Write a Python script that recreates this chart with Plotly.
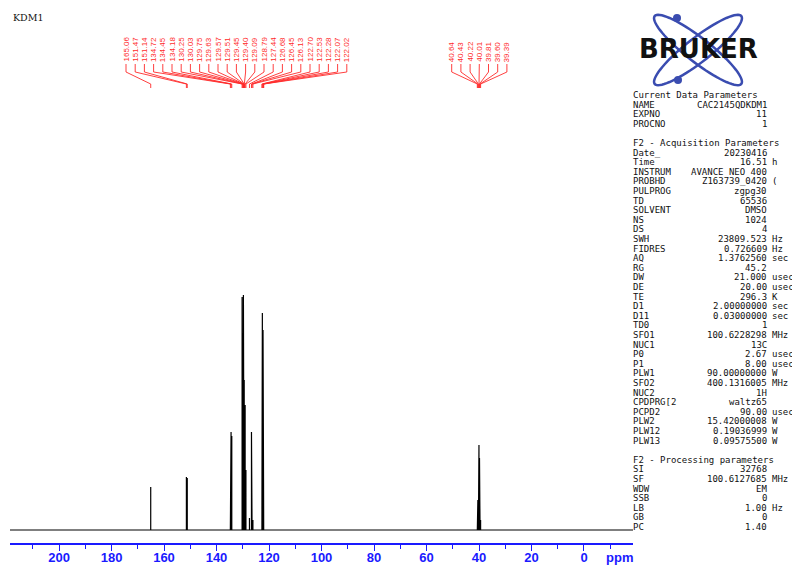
import math
import plotly.graph_objects as go

# ---------------- data ----------------
title_text = "KDM1"

peak_ppm = [165.06, 151.47, 151.14, 134.72, 134.45, 134.18, 130.25, 130.03,
            129.75, 129.63, 129.57, 129.51, 129.45, 129.40, 129.09, 128.79,
            127.44, 126.68, 126.45, 126.13, 122.70, 122.53, 122.28, 122.07,
            122.02]
peak_int = [43, 53, 52, 95, 98, 94, 233, 200,
            235, 210, 180, 160, 150, 140, 125, 60,
            12, 98, 12, 10, 8, 217, 200, 8,
            8]

solvent_ppm = [40.64, 40.43, 40.22, 40.01, 39.81, 39.60, 39.39]
solvent_int = [8, 30, 70, 85, 72, 35, 10]

major_ticks = [200, 180, 160, 140, 120, 100, 80, 60, 40, 20, 0]
minor_ticks = [210, 190, 170, 150, 130, 110, 90, 70, 50, 30, 10, -10]
axis_unit = "ppm"

param_keys = ["Current Data Parameters", "NAME", "EXPNO", "PROCNO", "",
              "F2 - Acquisition Parameters", "Date_", "Time", "INSTRUM",
              "PROBHD", "PULPROG", "TD", "SOLVENT", "NS", "DS", "SWH",
              "FIDRES", "AQ", "RG", "DW", "DE", "TE", "D1", "D11", "TD0",
              "SFO1", "NUC1", "P0", "P1", "PLW1", "SFO2", "NUC2", "CPDPRG[2",
              "PCPD2", "PLW2", "PLW12", "PLW13", "",
              "F2 - Processing parameters", "SI", "SF", "WDW", "SSB", "LB",
              "GB", "PC"]
param_values = ["", "CAC2145QDKDM1", "11", "1", "",
                "", "20230416", "16.51", "AVANCE NEO 400",
                "Z163739_0420", "zgpg30", "65536", "DMSO", "1024", "4", "23809.523",
                "0.726609", "1.3762560", "45.2", "21.000", "20.00", "296.3", "2.00000000", "0.03000000", "1",
                "100.6228298", "13C", "2.67", "8.00", "90.00000000", "400.1316005", "1H", "waltz65",
                "90.00", "15.42000008", "0.19036999", "0.09575500", "",
                "", "32768", "100.6127685", "EM", "0", "1.00",
                "0", "1.40"]
param_units = ["", "", "", "", "",
               "", "", "h", "",
               "(", "", "", "", "", "", "Hz",
               "Hz", "sec", "", "usec", "usec", "K", "sec", "sec", "",
               "MHz", "", "usec", "usec", "W", "MHz", "", "",
               "usec", "W", "W", "W", "",
               "", "", "MHz", "", "", "Hz",
               "", ""]

logo_text = "BRUKER"

# ---------------- layout geometry ----------------
OFF = 8                      # page body margin
W, H = 800 - OFF, 567 - OFF
PLOT_L, PLOT_R, PLOT_T, PLOT_B = 10, 633, 20, 543   # target page pixels
ML, MR = PLOT_L - OFF, W - (PLOT_R - OFF)
MT, MB = PLOT_T - OFF, H - (PLOT_B - OFF)
PW, PH = W - ML - MR, H - MT - MB
X_LEFT, X_RIGHT = 218.67, -18.67
Y_BOT, Y_TOP = -13, 510          # 1 intensity unit == 1 px

BLUE = "#1a1aff"
RED = "#ff2a2a"


def px_to_ppm(px):
    return X_LEFT - (px - PLOT_L) / PW * (X_LEFT - X_RIGHT)


def py_to_y(py):
    return Y_TOP - (py - PLOT_T) / PH * (Y_TOP - Y_BOT)


def paper_x(px):
    return (px - PLOT_L) / PW


def paper_y(py):
    return (PLOT_B - py) / PH


fig = go.Figure()

# ---------------- spectrum ----------------
all_peaks = sorted(zip(peak_ppm + solvent_ppm, peak_int + solvent_int),
                   key=lambda t: -t[0])
sx, sy = [X_LEFT], [0]
for p, h in all_peaks:
    sx += [p, p, p]
    sy += [0, h, 0]
sx.append(X_RIGHT)
sy.append(0)
fig.add_trace(go.Scatter(x=sx, y=sy, mode="lines",
                         line=dict(color="black", width=1.2),
                         hoverinfo="skip", showlegend=False))

# ---------------- peak labels + leader lines ----------------
LABEL_STEP = 9.2
groups = [(peak_ppm, 126.0), (solvent_ppm, 451.7)]
lx_all, ly_all = [], []
annotations = []
for ppms, start_px in groups:
    for i, p in enumerate(ppms):
        lab_px = start_px + i * LABEL_STEP
        lab_ppm = px_to_ppm(lab_px)
        lx_all += [lab_ppm, lab_ppm, p, p, None]
        ly_all += [py_to_y(64), py_to_y(72), py_to_y(84), py_to_y(88), None]
        annotations.append(dict(
            x=lab_ppm, y=py_to_y(63), xref="x", yref="y",
            text=f"{p:.2f}", showarrow=False, textangle=-90,
            xanchor="center", yanchor="bottom", borderpad=0,
            font=dict(family="Liberation Sans", size=8, color=RED)))
fig.add_trace(go.Scatter(x=lx_all, y=ly_all, mode="lines",
                         line=dict(color=RED, width=0.9),
                         hoverinfo="skip", showlegend=False))

# ---------------- title ----------------
annotations.append(dict(x=paper_x(11), y=paper_y(17), xref="paper", yref="paper",
                        text=title_text, showarrow=False, xanchor="left",
                        yanchor="middle",
                        font=dict(family="DejaVu Serif", size=9.5, color="#111")))

# ---------------- ppm label ----------------
annotations.append(dict(x=paper_x(619), y=paper_y(557), xref="paper", yref="paper",
                        text=axis_unit, showarrow=False, xanchor="center",
                        yanchor="middle",
                        font=dict(family="Liberation Sans", size=13, color=BLUE,
                                  weight="bold")))

# ---------------- parameter panel ----------------
PFONT = dict(family="DejaVu Sans Mono", size=9, color="#111")
for i, (k, v, u) in enumerate(zip(param_keys, param_values, param_units)):
    py = 95 + 9.6 * i
    if k:
        annotations.append(dict(x=paper_x(632), y=paper_y(py), xref="paper",
                                yref="paper", text=k, showarrow=False,
                                xanchor="left", yanchor="middle", font=PFONT,
                                borderpad=0))
    if v:
        annotations.append(dict(x=paper_x(768), y=paper_y(py), xref="paper",
                                yref="paper", text=v, showarrow=False,
                                xanchor="right", yanchor="middle", font=PFONT,
                                borderpad=0))
    if u:
        annotations.append(dict(x=paper_x(771), y=paper_y(py), xref="paper",
                                yref="paper", text=u, showarrow=False,
                                xanchor="left", yanchor="middle", font=PFONT,
                                borderpad=0))

# ---------------- logo ----------------
LOGO_BLUE = "#3a4cb0"
shapes = []
cx, cy, a, b = 698, 50, 55, 12
for ang in (38, -38):
    t = math.radians(ang)
    pts = []
    for k in range(73):
        s = 2 * math.pi * k / 72
        ex, ey = a * math.cos(s), b * math.sin(s)
        px = cx + ex * math.cos(t) - ey * math.sin(t)
        py = cy + ex * math.sin(t) + ey * math.cos(t)
        pts.append(f"{paper_x(px):.5f},{paper_y(py):.5f}")
    shapes.append(dict(type="path", xref="paper", yref="paper",
                       path="M " + " L ".join(pts) + " Z",
                       line=dict(color=LOGO_BLUE, width=2.5)))
for dx, dy in ((677, 18), (678, 80)):
    shapes.append(dict(type="circle", xref="paper", yref="paper",
                       x0=paper_x(dx - 4), x1=paper_x(dx + 4),
                       y0=paper_y(dy + 4), y1=paper_y(dy - 4),
                       fillcolor=LOGO_BLUE, line=dict(width=0)))
annotations.append(dict(x=paper_x(698), y=paper_y(49), xref="paper", yref="paper",
                        text=logo_text, showarrow=False, xanchor="center",
                        yanchor="middle",
                        font=dict(family="DejaVu Sans", size=26, color="#111",
                                  weight="bold")))

fig.update_layout(
    width=W, height=H, autosize=False,
    margin=dict(l=ML, r=MR, t=MT, b=MB, autoexpand=False),
    paper_bgcolor="white", plot_bgcolor="white",
    showlegend=False,
    annotations=annotations,
    shapes=shapes,
    xaxis=dict(range=[X_LEFT, X_RIGHT], showgrid=False, zeroline=False,
               automargin=False,
               showline=True, linecolor=BLUE, linewidth=1.5,
               ticks="outside", ticklen=6, tickcolor=BLUE, tickwidth=1,
               ticklabelstandoff=-4,
               tickvals=major_ticks, ticktext=[str(t) for t in major_ticks],
               tickfont=dict(family="Liberation Sans", size=13, color=BLUE,
                             weight="bold"),
               minor=dict(tickvals=minor_ticks, ticklen=4, tickcolor=BLUE,
                          ticks="outside")),
    yaxis=dict(range=[Y_BOT, Y_TOP], visible=False, showgrid=False,
               zeroline=False, automargin=False),
)

fig.write_html("out.html")
